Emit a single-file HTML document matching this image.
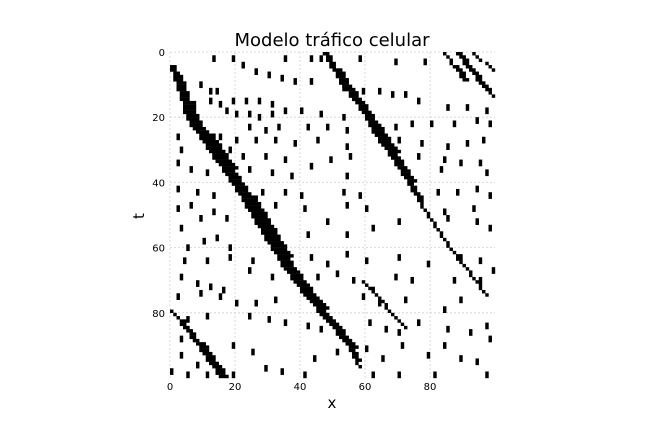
<!DOCTYPE html>
<html><head><meta charset="utf-8"><style>
body{margin:0;background:#fff;}
svg{display:block;font-family:"DejaVu Sans","Liberation Sans",sans-serif;}
</style></head><body>
<svg id="chart" width="648" height="432">
<text x="332" y="46" font-size="18" text-anchor="middle">Modelo tráfico celular</text>
<text x="332" y="408" font-size="15" text-anchor="middle">x</text>
<text x="144" y="216" font-size="15" text-anchor="middle" transform="rotate(-90 144 216)">t</text>
<g id="grid"></g><g id="cells"></g><g id="axes"></g>
</svg>
<script>
const xTicks=[0,20,40,60,80];
const tTicks=[0,20,40,60,80];
// jam bands: vertices [t, x, width]
const bandA=[[4,0,2],[10,2,3],[20,5,4],[30,12,5],[40,19,4],[48,24,5],[58,30,5],[66,35,4],[74,41,4],[82,48,3],[89,54,3],[96,58,1]];
const bandB=[[0,47,2],[10,53,3],[18,59,3],[25,63,4],[35,70,3],[43,75,2],[48,78,1],[60,86,1],[74,97,1]];
const bandC1=[[0,84,1],[8,90,2]];
const bandC2=[[0,88,2],[10,96,2],[13,99,1]];
const bandC3=[[0,93,1],[5,99,1]];
const bandD=[[79,0,1],[85,5,2],[92,10,3],[99,15,3]];
const bandE=[[70,59,1],[84,72,1]];
const bands=[bandA,bandB,bandC1,bandC2,bandC3,bandD,bandE];
// isolated cars [x, t]
const dots=[[13,1],[19,1],[22,3],[26,5],[30,6],[34,7],[38,8],[35,1],[43,1],[46,1],[58,1],[69,2],[78,2],[43,8],[53,10],[59,11],[64,11],[68,12],[72,12],[76,14],[85,16],[91,16],[97,17],[9,9],[12,11],[14,11],[12,14],[15,15],[19,14],[23,14],[27,14],[31,15],[35,17],[17,17],[20,18],[24,18],[27,19],[31,18],[40,17],[46,18],[53,19],[24,22],[29,23],[33,22],[42,22],[48,22],[54,23],[69,22],[74,21],[80,21],[87,21],[94,20],[98,21],[2,25],[15,25],[20,26],[26,26],[32,26],[38,27],[45,26],[54,28],[70,26],[77,27],[85,28],[91,27],[96,26],[3,29],[18,29],[22,31],[29,31],[35,32],[43,34],[49,32],[55,31],[76,31],[84,32],[89,33],[95,33],[2,33],[6,35],[11,36],[24,35],[31,36],[37,37],[54,37],[83,35],[97,36],[2,41],[8,42],[13,43],[28,42],[35,42],[40,43],[53,42],[58,43],[82,42],[88,42],[94,41],[98,43],[2,47],[6,46],[13,48],[32,46],[41,47],[54,46],[60,47],[84,48],[93,47],
[3,53],[9,50],[17,50],[5,59],[10,57],[14,56],[18,59],[42,55],[48,51],[54,55],[62,53],[70,51],[85,50],[94,51],[98,53],[4,63],[11,63],[18,62],[25,63],[43,62],[48,64],[54,61],[60,63],[70,62],[79,64],[89,62],[95,63],[3,68],[8,70],[12,71],[16,72],[24,66],[31,68],[45,68],[51,67],[56,69],[62,72],[69,68],[74,69],[87,69],[95,69],[99,66],[2,74],[9,73],[15,74],[20,76],[26,76],[32,75],[59,74],[64,76],[72,75],[84,78],[89,75],[5,81],[11,80],[24,80],[30,81],[35,82],[42,83],[46,84],[61,82],[66,84],[70,85],[76,82],[85,84],[92,85],[97,83],[3,87],[3,92],[8,95],[19,89],[25,91],[29,96],[34,97],[44,93],[51,91],[60,90],[65,93],[71,89],[79,92],[84,89],[89,93],[94,94],[98,87],[0,97],[5,98],[11,98],[19,98],[41,98],[62,98],[70,98],[81,98],[97,98]];

const X0=170,X1=495,Y0=52,Y1=378;
const cw=(X1-X0)/100,ch=(Y1-Y0)/100;
const sx=v=>X0+v*cw, sy=v=>Y0+v*ch;
const NS="http://www.w3.org/2000/svg";
const cells=document.getElementById('cells'),grid=document.getElementById('grid'),axes=document.getElementById('axes');
function cell(x,t,w,h){
  const r=document.createElementNS(NS,'rect');
  r.setAttribute('x',sx(x));r.setAttribute('y',sy(t));
  r.setAttribute('width',w*cw+0.2);r.setAttribute('height',h*ch+0.2);
  r.setAttribute('fill','#000');
  
  
  cells.appendChild(r);
}
xTicks.forEach(v=>{
  const l=document.createElementNS(NS,'line');
  l.setAttribute('x1',sx(v));l.setAttribute('x2',sx(v));l.setAttribute('y1',Y0);l.setAttribute('y2',Y1);
  l.setAttribute('stroke','#d0d0d0');l.setAttribute('stroke-dasharray','2,2');l.setAttribute('stroke-width','0.8');
  
  
  grid.appendChild(l);
  const t=document.createElementNS(NS,'text');
  t.setAttribute('x',sx(v));t.setAttribute('y',Y1+12);t.setAttribute('font-size','10');t.setAttribute('text-anchor','middle');
  t.textContent=v;
  
  
  axes.appendChild(t);
});
tTicks.forEach(v=>{
  const l=document.createElementNS(NS,'line');
  l.setAttribute('y1',sy(v));l.setAttribute('y2',sy(v));l.setAttribute('x1',X0);l.setAttribute('x2',X1);
  l.setAttribute('stroke','#d0d0d0');l.setAttribute('stroke-dasharray','2,2');l.setAttribute('stroke-width','0.8');
  
  
  grid.appendChild(l);
  const t=document.createElementNS(NS,'text');
  t.setAttribute('x',X0-5);t.setAttribute('y',sy(v)+4);t.setAttribute('font-size','10');t.setAttribute('text-anchor','end');
  t.textContent=v;
  
  
  axes.appendChild(t);
});
bands.forEach(b=>{
  for(let i=0;i<b.length-1;i++){
    const [t0,x0,w0]=b[i],[t1,x1,w1]=b[i+1];
    for(let t=t0;t<t1||(i===b.length-2&&t===t1);t++){
      const f=(t-t0)/Math.max(1,t1-t0);
      const x=Math.round(x0+(x1-x0)*f), w=Math.round(w0+(w1-w0)*f);
      if(x<100) cell(x,t,Math.min(w,100-x),1);
    }
  }
});
dots.forEach(d=>cell(d[0],d[1],1,Math.min(2,100-d[1])));
</script>
</body></html>
